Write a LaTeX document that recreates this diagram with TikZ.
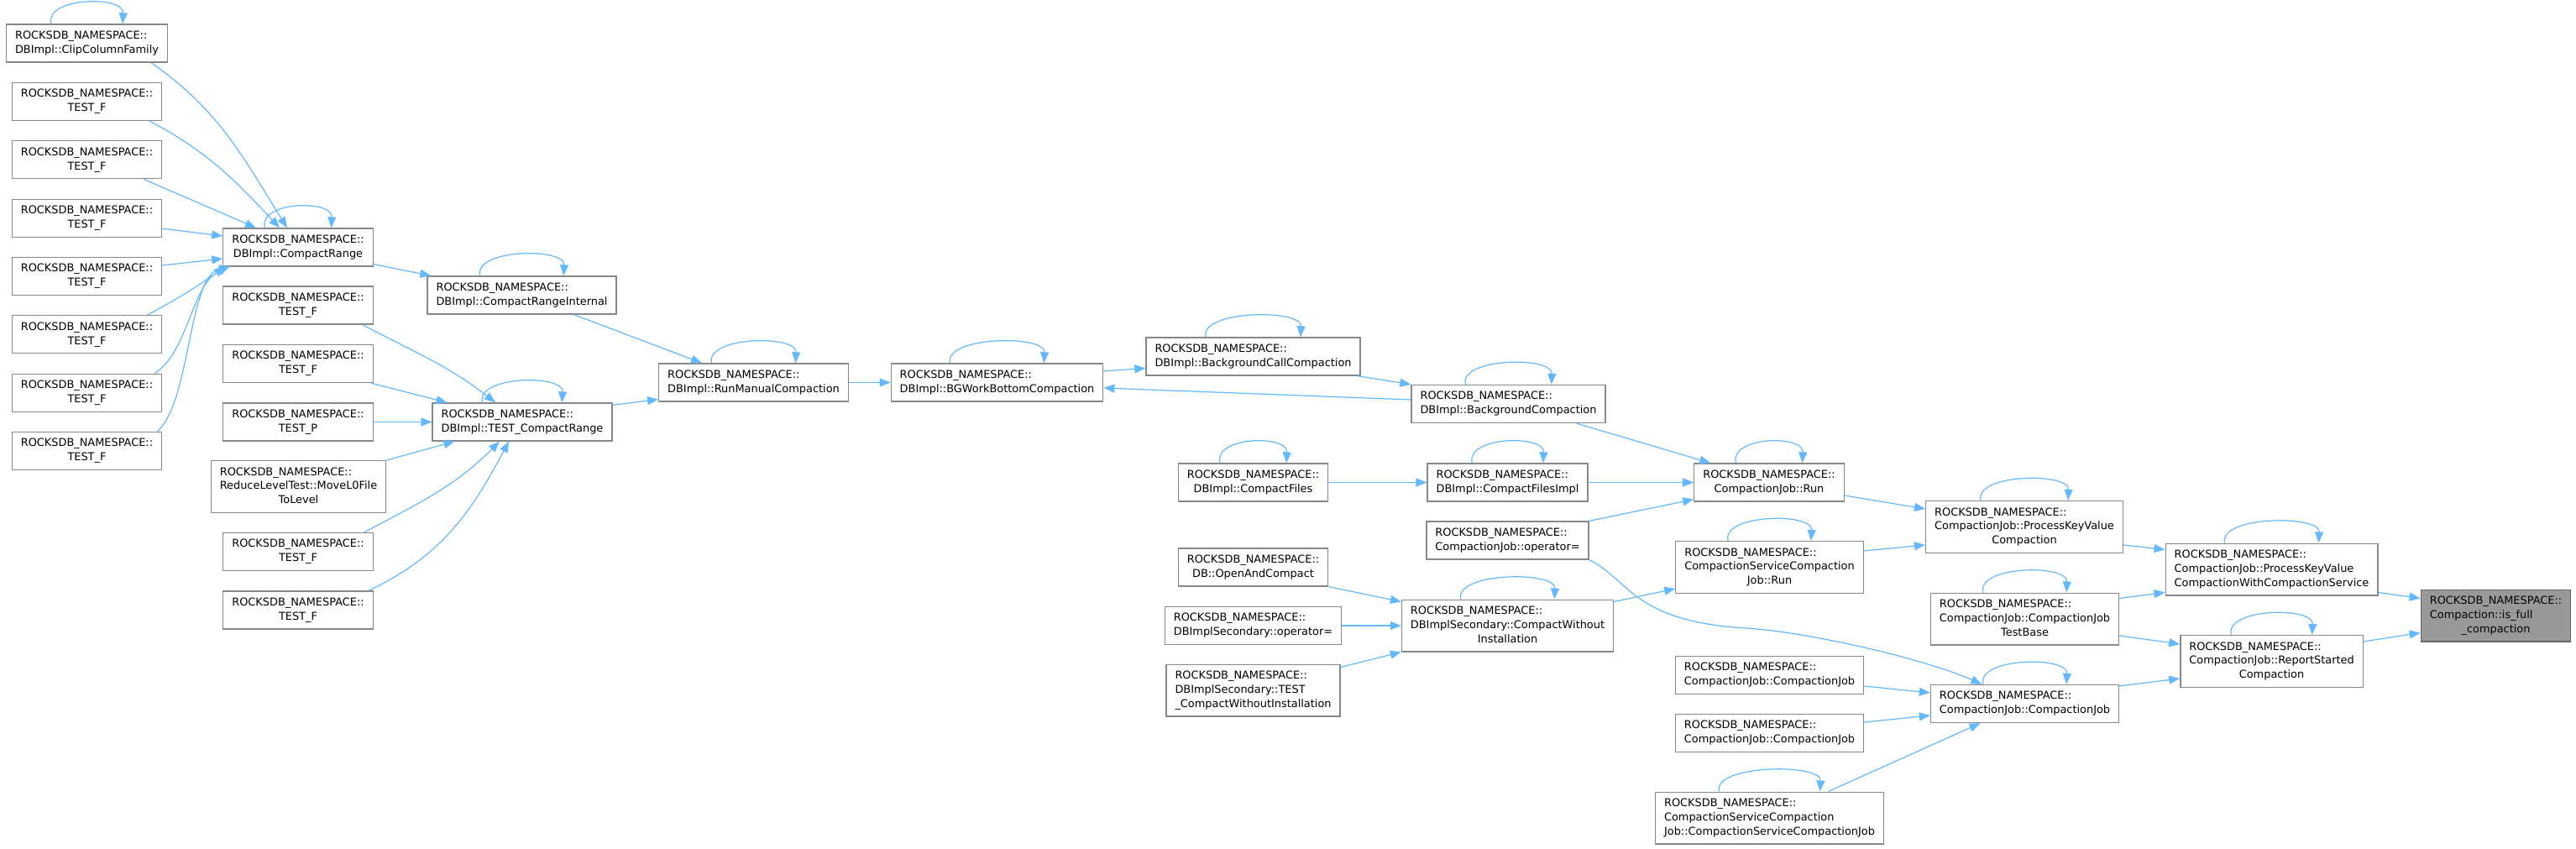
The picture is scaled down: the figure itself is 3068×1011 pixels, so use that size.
\documentclass[tikz,border=0pt]{standalone}
\usepackage{fontspec}
\setmainfont{DejaVu Sans}
\usetikzlibrary{arrows.meta,calc}
\definecolor{linkblue}{HTML}{63B8FF}
\definecolor{boxgray}{HTML}{878787}
\definecolor{tgtfill}{HTML}{999999}
\definecolor{tgtdraw}{HTML}{666666}
\newcommand{\fnlabel}[2]{\begin{tabular}{@{}l@{}}#1\\\multicolumn{1}{@{}c@{}}{#2}\end{tabular}}
\newcommand{\rdbns}{ROCKSDB\_NAMESPACE::}

\begin{document}
\begin{tikzpicture}[x=1pt,y=1pt,>={Triangle[length=13pt,width=10pt]},
  font=\fontsize{12.9}{16.7}\selectfont,
  fn/.style={draw=boxgray,line width=1.3pt,fill=white,inner xsep=10.5pt,
    inner ysep=5.8pt,minimum height=45pt},
  target/.style={fn,fill=tgtfill,draw=tgtdraw},
  call/.style={->,draw=linkblue,line width=1.2pt}]
\useasboundingbox (0,0) rectangle (3068,-1011);
\node[fn] (clip) at (103.5,-51.5) {\fnlabel{\rdbns}{DBImpl::ClipColumnFamily}};
\foreach \k in {0,...,6}
  \node[fn] (tf\k) at (103.5,{-121-69.33*\k}) {\fnlabel{\rdbns}{TEST\_F}};
\node[fn] (crange) at (355,-294.5) {\fnlabel{\rdbns}{DBImpl::CompactRange}};
\node[fn] (tg0) at (355,-363.5) {\fnlabel{\rdbns}{TEST\_F}};
\node[fn] (tg1) at (355,-433) {\fnlabel{\rdbns}{TEST\_F}};
\node[fn] (tp) at (355,-502.5) {\fnlabel{\rdbns}{TEST\_P}};
\node[fn] (reduce) at (355.5,-579.5)
  {\fnlabel{\rdbns\\ReduceLevelTest::MoveL0File}{ToLevel}};
\node[fn] (tg2) at (355,-657) {\fnlabel{\rdbns}{TEST\_F}};
\node[fn] (tg3) at (355,-726.5) {\fnlabel{\rdbns}{TEST\_F}};
\node[fn] (crint) at (621.5,-351.5) {\fnlabel{\rdbns}{DBImpl::CompactRangeInternal}};
\node[fn] (tcr) at (622,-502.5) {\fnlabel{\rdbns}{DBImpl::TEST\_CompactRange}};
\node[fn] (rmc) at (897.5,-455.5) {\fnlabel{\rdbns}{DBImpl::RunManualCompaction}};
\node[fn] (bgw) at (1187.5,-455.5) {\fnlabel{\rdbns}{DBImpl::BGWorkBottomCompaction}};
\node[fn] (bgcall) at (1492.5,-424.5) {\fnlabel{\rdbns}{DBImpl::BackgroundCallCompaction}};
\node[fn] (bgcomp) at (1796.5,-481) {\fnlabel{\rdbns}{DBImpl::BackgroundCompaction}};
\node[fn] (cfiles) at (1492.5,-574.5) {\fnlabel{\rdbns}{DBImpl::CompactFiles}};
\node[fn] (cfimpl) at (1795.5,-574.5) {\fnlabel{\rdbns}{DBImpl::CompactFilesImpl}};
\node[fn] (cjop) at (1795.5,-643.5) {\fnlabel{\rdbns}{CompactionJob::operator=}};
\node[fn] (open) at (1492.5,-675.5) {\fnlabel{\rdbns}{DB::OpenAndCompact}};
\node[fn] (dbsop) at (1492.5,-745) {\fnlabel{\rdbns}{DBImplSecondary::operator=}};
\node[fn] (dbstest) at (1492.5,-822)
  {\fnlabel{\rdbns\\DBImplSecondary::TEST}{\_CompactWithoutInstallation}};
\node[fn] (cwi) at (1795.5,-745)
  {\fnlabel{\rdbns\\DBImplSecondary::CompactWithout}{Installation}};
\node[fn] (cjrun) at (2107,-574.5) {\fnlabel{\rdbns}{CompactionJob::Run}};
\node[fn] (cscjrun) at (2107.5,-675.5)
  {\fnlabel{\rdbns\\CompactionServiceCompaction}{Job::Run}};
\node[fn] (cj1) at (2107.5,-804) {\fnlabel{\rdbns}{CompactionJob::CompactionJob}};
\node[fn] (cj2) at (2107.5,-873) {\fnlabel{\rdbns}{CompactionJob::CompactionJob}};
\node[fn] (cscj) at (2107.5,-974)
  {\fnlabel{\rdbns\\CompactionServiceCompaction}{Job::CompactionServiceCompactionJob}};
\node[fn] (pkvc) at (2411,-627.5)
  {\fnlabel{\rdbns\\CompactionJob::ProcessKeyValue}{Compaction}};
\node[fn] (cjtb) at (2411.5,-737)
  {\fnlabel{\rdbns\\CompactionJob::CompactionJob}{TestBase}};
\node[fn] (cj) at (2411.5,-838) {\fnlabel{\rdbns}{CompactionJob::CompactionJob}};
\node[fn] (pkvcws) at (2705.5,-678)
  {\fnlabel{\rdbns\\CompactionJob::ProcessKeyValue}{CompactionWithCompactionService}};
\node[fn] (rsc) at (2705.5,-787.5)
  {\fnlabel{\rdbns\\CompactionJob::ReportStarted}{Compaction}};
\node[target] (isfull) at (2972.5,-733)
  {\fnlabel{\rdbns\\Compaction::is\_full}{\_compaction}};
\coordinate (bend) at (2079,-748);
\foreach \n in {clip,crange,crint,tcr,rmc,bgw,bgcall,bgcomp,cfiles,cfimpl,
    cjrun,cscjrun,cwi,pkvc,cjtb,cj,cscj,pkvcws,rsc}
  \draw[call] ($(\n.north west)!.28!(\n.north east)$)
    .. controls +(-8,32) and +(2,34) .. ($(\n.north west)!.72!(\n.north east)$);
\draw[call] ([xshift=-20pt]clip.south east) to[out=-35,in=122] ([xshift=-13pt]crange.north);
\draw[call] ([xshift=-15pt]tf0.south east) to[out=-28,in=133] ([xshift=-22pt]crange.north);
\draw[call] ([xshift=-22pt]tf1.south east) -- ([xshift=-50pt]crange.north);
\draw[call] ([yshift=-12.5pt]tf2.east) -- ([yshift=13.5pt]crange.west);
\draw[call] ([yshift=13pt]tf3.east) -- ([yshift=-13.5pt]crange.west);
\draw[call] ([xshift=-18pt]tf4.north east) to[out=28,in=-145] ([xshift=3pt]crange.south west);
\draw[call] ([xshift=-9pt]tf5.north east)
  .. controls +(40,25) and +(-45,-20) .. ([xshift=8pt]crange.south west);
\draw[call] ([xshift=-6pt]tf6.north east)
  .. controls +(40,35) and +(-50,-10) .. ([xshift=9pt]crange.south west);
\draw[call] ([yshift=3pt]crange.south east) -- ([xshift=5pt]crint.north west);
\draw[call] ([xshift=-13pt]tg0.south east) to[out=-28,in=142] ([xshift=-32pt]tcr.north);
\draw[call] ([xshift=-3pt]tg1.south east) -- ([xshift=18pt]tcr.north west);
\draw[call] (tp.east) -- (tcr.west);
\draw[call] (reduce.north east) -- ([xshift=27pt]tcr.south west);
\draw[call] ([xshift=-11pt]tg2.north east) to[out=28,in=-135] ([xshift=-27pt]tcr.south);
\draw[call] ([xshift=-6pt]tg3.north east) to[out=25,in=-118] ([xshift=-16pt]tcr.south);
\draw[call] ([xshift=62pt]crint.south) -- ([xshift=52pt]rmc.north west);
\draw[call] ([yshift=-3pt]tcr.north east) -- ([yshift=3pt]rmc.south west);
\draw[call] (rmc.east) -- (bgw.west);
\draw[call] ([yshift=13.5pt]bgw.east) -- ([yshift=-14pt]bgcall.west);
\draw[call] ([xshift=-4pt]bgcall.south east) -- (bgcomp.north west);
\draw[call] ([yshift=5pt]bgcomp.west) -- ([yshift=-6.5pt]bgw.east);
\draw[call] ([xshift=-35pt]bgcomp.south east) -- ([xshift=20pt]cjrun.north west);
\draw[call] (cfiles.east) -- (cfimpl.west);
\draw[call] (cfimpl.east) -- (cjrun.west);
\draw[call] (cjop.north east) -- ([yshift=3pt]cjrun.south west);
\draw[call] (cjop.south east) .. controls +(48,-24) and +(-134,8) .. (bend)
  .. controls +(71,-4) and +(-70,31) .. ([xshift=-51pt]cj.north);
\draw[call] (open.south east) -- ([yshift=-3pt]cwi.north west);
\draw[call] (dbsop.east) -- (cwi.west);
\draw[call] ([yshift=-4pt]dbstest.north east) -- (cwi.south west);
\draw[call] ([yshift=-3pt]cwi.north east) -- ([yshift=6pt]cscjrun.south west);
\draw[call] ([yshift=-15.5pt]cjrun.east) -- ([yshift=-10pt]pkvc.north west);
\draw[call] ([yshift=-12pt]cscjrun.north east) -- ([yshift=10pt]pkvc.south west);
\draw[call] ([yshift=10pt]pkvc.south east) -- ([yshift=-8pt]pkvcws.north west);
\draw[call] ([yshift=-7pt]cjtb.north east) -- ([yshift=4pt]pkvcws.south west);
\draw[call] ([yshift=-20pt]cjtb.east) -- ([yshift=-11pt]rsc.north west);
\draw[call] ([yshift=-13pt]cj1.east) -- ([yshift=13pt]cj.west);
\draw[call] ([yshift=13pt]cj2.east) -- ([yshift=-14pt]cj.west);
\draw[call] ([xshift=70pt]cscj.north) -- ([xshift=-53pt]cj.south);
\draw[call] ([yshift=-2pt]cj.north east) -- ([yshift=11pt]rsc.south west);
\draw[call] ([yshift=4pt]pkvcws.south east) -- ([yshift=-11pt]isfull.north west);
\draw[call] ([yshift=-8pt]rsc.north east) -- ([yshift=11pt]isfull.south west);
\end{tikzpicture}
\end{document}
